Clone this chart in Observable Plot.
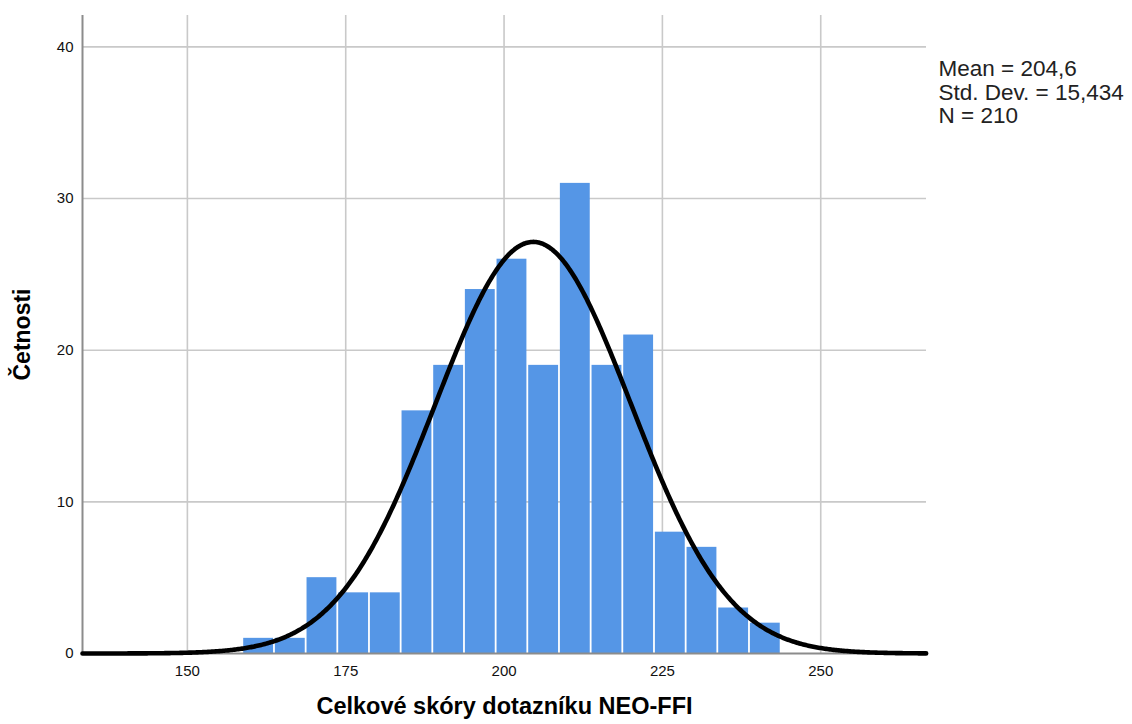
<!DOCTYPE html>
<html>
<head>
<meta charset="utf-8">
<script src="https://cdn.jsdelivr.net/npm/d3@7"></script>
<script src="https://cdn.jsdelivr.net/npm/@observablehq/plot@0.6"></script>
<style>
  html, body { margin: 0; padding: 0; background: #fff; }
  #chart svg { display: block; }
</style>
</head>
<body>
<div id="chart"></div>
<script>
// Histogram of NEO-FFI total scores with a fitted normal curve
const binLow  = [158.75, 163.75, 168.75, 173.75, 178.75, 183.75, 188.75, 193.75, 198.75,
                 203.75, 208.75, 213.75, 218.75, 223.75, 228.75, 233.75, 238.75];
const binHigh = [163.75, 168.75, 173.75, 178.75, 183.75, 188.75, 193.75, 198.75, 203.75,
                 208.75, 213.75, 218.75, 223.75, 228.75, 233.75, 238.75, 243.75];
const counts  = [1, 1, 5, 4, 4, 16, 19, 24, 26, 19, 31, 19, 21, 8, 7, 3, 2];

const xTicks = [150, 175, 200, 225, 250];
const yTicks = [0, 10, 20, 30, 40];
const xDomain = [133.44, 266.7];
const yDomain = [0, 42.07];

const mean = 204.6;
const stdDev = 15.434;
const n = 210;
const binWidth = 5;

const xTitle = "Celkové skóry dotazníku NEO-FFI";
const yTitle = "Četnosti";

const bars = counts.map((c, i) => ({x1: binLow[i], x2: binHigh[i], count: c}));

// expected frequencies of a normal distribution with the sample's mean and SD
const normal = d3.range(xDomain[0], xDomain[1] + 0.01, 0.2).map(x => ({
  x,
  y: n * binWidth * Math.exp(-0.5 * ((x - mean) / stdDev) ** 2) / (stdDev * Math.sqrt(2 * Math.PI))
}));

const comma = v => String(v).replace(".", ",");
const statsLines = [`Mean = ${comma(mean)}`, `Std. Dev. = ${comma(stdDev)}`, `N = ${n}`];

const gridColor = "#c9c9c9";
const statsSize = 22.5;
const statsStep = 23.5;

const chart = Plot.plot({
  width: 1132,
  height: 724,
  marginLeft: 82,
  marginRight: 206,
  marginTop: 15,
  marginBottom: 71,
  style: {fontFamily: "'Liberation Sans', Arial, sans-serif", color: "#111", background: "#fff"},
  x: {domain: xDomain, ticks: xTicks},
  y: {domain: yDomain, ticks: yTicks},
  marks: [
    Plot.ruleX(xTicks, {stroke: gridColor, strokeWidth: 1.6}),
    Plot.ruleY(yTicks.filter(t => t > 0), {stroke: gridColor, strokeWidth: 1.6}),
    Plot.rectY(bars, {x1: "x1", x2: "x2", y: "count", fill: "#5596e6", insetLeft: 0.9, insetRight: 0.9}),
    Plot.ruleX([xDomain[0]], {stroke: "#8c8c8c", strokeWidth: 2}),
    Plot.ruleY([0], {stroke: "#8c8c8c", strokeWidth: 2}),
    Plot.line(normal, {x: "x", y: "y", stroke: "#000", strokeWidth: 4.6, curve: "linear"}),
    Plot.axisX({ticks: xTicks, tickSize: 0, tickPadding: 12, fontSize: 15, label: null}),
    Plot.axisY({ticks: yTicks, tickSize: 0, tickPadding: 9, fontSize: 15, label: null}),
    Plot.text([xTitle], {frameAnchor: "bottom", dy: 60, fontSize: 23.5, fontWeight: "bold", fill: "#000"}),
    Plot.text([yTitle], {frameAnchor: "left", textAnchor: "middle", dx: -60, rotate: -90,
      fontSize: 23, fontWeight: "bold", fill: "#000"}),
    // statistics block to the right of the plot area, one text per line
    ...statsLines.map((line, i) => Plot.text([line], {
      frameAnchor: "top-right", dx: 12, dy: 45 + i * statsStep, textAnchor: "start",
      fontSize: statsSize, fill: "#222"
    }))
  ]
});

document.getElementById("chart").appendChild(chart);
</script>
</body>
</html>
